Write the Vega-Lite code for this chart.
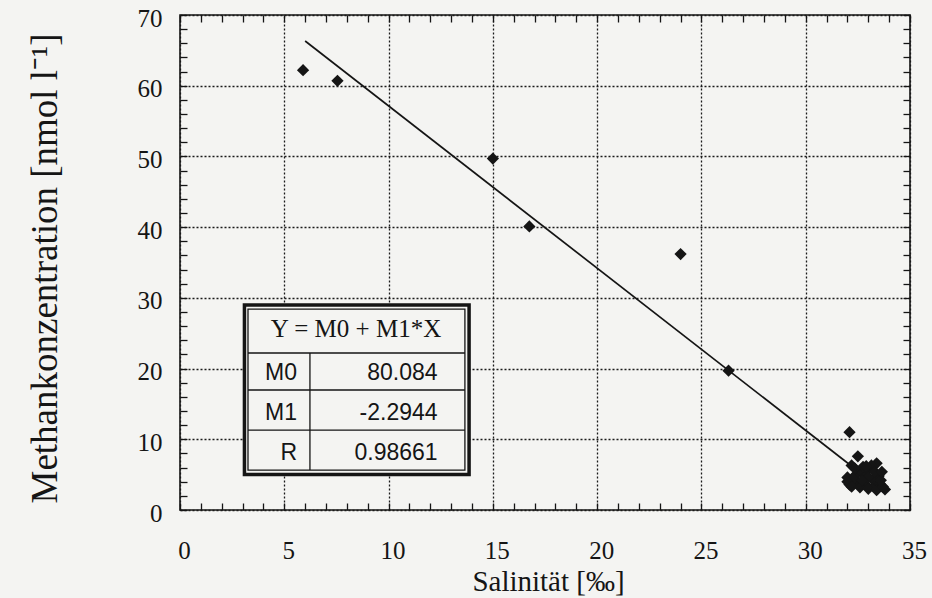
{
  "$schema": "https://vega.github.io/schema/vega-lite/v6.json",
  "width": 730,
  "height": 495,
  "autosize": {"type": "none"},
  "padding": {"left": 180, "top": 15, "right": 22, "bottom": 88},
  "background": "#f4f4f2",
  "config": {
    "view": {"stroke": "#151515", "strokeWidth": 1.6},
    "font": "Liberation Serif",
    "axis": {
      "labelFont": "Liberation Serif", "labelFontSize": 25, "labelColor": "#151515",
      "titleFont": "Liberation Serif", "titleFontWeight": "normal", "titleColor": "#151515",
      "tickColor": "#151515", "tickWidth": 1.3
    }
  },
  "datasets": {
    "points": [
      {"sal": 5.9, "ch4": 62.2}, {"sal": 7.55, "ch4": 60.7}, {"sal": 15.0, "ch4": 49.7},
      {"sal": 16.75, "ch4": 40.1}, {"sal": 24.0, "ch4": 36.2}, {"sal": 26.3, "ch4": 19.7},
      {"sal": 32.1, "ch4": 11.0}, {"sal": 32.5, "ch4": 7.6}, {"sal": 32.2, "ch4": 6.3},
      {"sal": 33.4, "ch4": 6.6}, {"sal": 32.0, "ch4": 4.6}, {"sal": 32.4, "ch4": 5.0},
      {"sal": 32.65, "ch4": 5.5}, {"sal": 32.85, "ch4": 4.8}, {"sal": 33.0, "ch4": 5.7},
      {"sal": 33.2, "ch4": 4.3}, {"sal": 32.5, "ch4": 3.9}, {"sal": 32.1, "ch4": 3.6},
      {"sal": 32.9, "ch4": 3.5}, {"sal": 33.3, "ch4": 3.3}, {"sal": 33.55, "ch4": 3.7},
      {"sal": 33.8, "ch4": 2.9}, {"sal": 32.75, "ch4": 6.1}, {"sal": 33.15, "ch4": 6.3},
      {"sal": 33.5, "ch4": 4.8}, {"sal": 32.3, "ch4": 4.4}, {"sal": 32.0, "ch4": 4.0},
      {"sal": 32.2, "ch4": 3.3}, {"sal": 32.6, "ch4": 3.2}, {"sal": 33.0, "ch4": 3.0},
      {"sal": 33.4, "ch4": 2.8}, {"sal": 33.7, "ch4": 3.3}, {"sal": 33.0, "ch4": 4.6},
      {"sal": 32.7, "ch4": 4.2}, {"sal": 33.3, "ch4": 5.4}, {"sal": 33.6, "ch4": 4.2},
      {"sal": 32.35, "ch4": 5.9}, {"sal": 32.9, "ch4": 6.2}, {"sal": 33.65, "ch4": 5.4}
    ],
    "fit": [{"sal": 6.0, "ch4": 66.32}, {"sal": 32.5, "ch4": 5.52}],
    "outer": [{"x1": 3.09, "x2": 13.86, "y1": 5.02, "y2": 29.0}],
    "inner": [{"x1": 3.26, "x2": 13.66, "y1": 5.65, "y2": 28.42}],
    "dividers": [
      {"x1": 3.26, "x2": 13.66, "y1": 22.2, "y2": 22.2},
      {"x1": 3.26, "x2": 13.66, "y1": 16.97, "y2": 16.97},
      {"x1": 3.26, "x2": 13.66, "y1": 11.3, "y2": 11.3},
      {"x1": 6.23, "x2": 6.23, "y1": 5.65, "y2": 22.2}
    ],
    "header": [{"x": 8.44, "y": 25.59, "t": "Y = M0 + M1*X"}],
    "params": [
      {"xl": 5.61, "xv": 12.35, "y": 19.37, "name": "M0", "value": "80.084"},
      {"xl": 5.61, "xv": 12.35, "y": 13.71, "name": "M1", "value": "-2.2944"},
      {"xl": 5.61, "xv": 12.35, "y": 8.06, "name": "R", "value": "0.98661"}
    ]
  },
  "layer": [
    {
      "data": {"name": "points"},
      "mark": {"type": "point", "shape": "diamond", "filled": true, "color": "#151515", "size": 150, "opacity": 1},
      "encoding": {
        "x": {
          "field": "sal", "type": "quantitative",
          "scale": {"domain": [0, 35], "nice": false, "zero": false},
          "axis": {
            "orient": "bottom",
            "values": [0,1,2,3,4,5,6,7,8,9,10,11,12,13,14,15,16,17,18,19,20,21,22,23,24,25,26,27,28,29,30,31,32,33,34,35],
            "labelExpr": "datum.value % 5 === 0 ? datum.label : ''",
            "labelOverlap": false, "labelFlush": false,
            "tickSize": -7, "domain": false, "grid": false,
            "labelPadding": 35, "labelOffset": 4,
            "title": "Salinität [‰]", "titleFontSize": 29, "titleY": 80, "titleX": 368, "titleBaseline": "alphabetic"
          }
        },
        "y": {
          "field": "ch4", "type": "quantitative",
          "scale": {"domain": [0, 70], "nice": false, "zero": false},
          "axis": {
            "orient": "left",
            "values": [0,2,4,6,8,10,12,14,16,18,20,22,24,26,28,30,32,34,36,38,40,42,44,46,48,50,52,54,56,58,60,62,64,66,68,70],
            "labelExpr": "datum.value % 10 === 0 ? datum.label : ''",
            "labelOverlap": false, "labelFlush": false,
            "tickSize": -7, "domain": false, "grid": false,
            "labelPadding": 25, "labelOffset": 3,
            "title": "Methankonzentration [nmol l⁻¹]", "titleFontSize": 37,
            "titleX": -124, "titleY": 253, "titleBaseline": "alphabetic", "titleAlign": "center"
          }
        }
      }
    },
    {
      "data": {"name": "fit"},
      "mark": {"type": "line", "color": "#151515", "strokeWidth": 1.7},
      "encoding": {
        "x": {
          "field": "sal", "type": "quantitative",
          "axis": {
            "orient": "top",
            "values": [0,1,2,3,4,5,6,7,8,9,10,11,12,13,14,15,16,17,18,19,20,21,22,23,24,25,26,27,28,29,30,31,32,33,34,35],
            "labels": false, "tickSize": -7,
            "domain": false, "grid": true, "gridDash": [2, 2], "gridColor": "#1a1a1a", "gridWidth": 1.3,
            "gridOpacity": {"condition": {"test": "datum.value % 5 === 0", "value": 1}, "value": 0},
            "title": null
          }
        },
        "y": {
          "field": "ch4", "type": "quantitative",
          "axis": {
            "orient": "right",
            "values": [0,2,4,6,8,10,12,14,16,18,20,22,24,26,28,30,32,34,36,38,40,42,44,46,48,50,52,54,56,58,60,62,64,66,68,70],
            "labels": false, "tickSize": -7,
            "domain": false, "grid": true, "gridDash": [2, 2], "gridColor": "#1a1a1a", "gridWidth": 1.3,
            "gridOpacity": {"condition": {"test": "datum.value % 10 === 0", "value": 1}, "value": 0},
            "title": null
          }
        }
      }
    },
    {
      "data": {"name": "outer"},
      "mark": {"type": "rect", "fill": "#f4f4f2", "stroke": "#151515", "strokeWidth": 3.5},
      "encoding": {
        "x": {"field": "x1", "type": "quantitative", "axis": null},
        "x2": {"field": "x2"},
        "y": {"field": "y1", "type": "quantitative", "axis": null},
        "y2": {"field": "y2"}
      }
    },
    {
      "data": {"name": "inner"},
      "mark": {"type": "rect", "fillOpacity": 0, "stroke": "#151515", "strokeWidth": 1.3},
      "encoding": {
        "x": {"field": "x1", "type": "quantitative", "axis": null},
        "x2": {"field": "x2"},
        "y": {"field": "y1", "type": "quantitative", "axis": null},
        "y2": {"field": "y2"}
      }
    },
    {
      "data": {"name": "dividers"},
      "mark": {"type": "rule", "color": "#151515", "strokeWidth": 1.3},
      "encoding": {
        "x": {"field": "x1", "type": "quantitative", "axis": null},
        "x2": {"field": "x2"},
        "y": {"field": "y1", "type": "quantitative", "axis": null},
        "y2": {"field": "y2"}
      }
    },
    {
      "data": {"name": "header"},
      "mark": {"type": "text", "font": "Liberation Serif", "fontSize": 25, "color": "#151515", "align": "center", "baseline": "middle"},
      "encoding": {
        "x": {"field": "x", "type": "quantitative", "axis": null},
        "y": {"field": "y", "type": "quantitative", "axis": null},
        "text": {"field": "t"}
      }
    },
    {
      "data": {"name": "params"},
      "mark": {"type": "text", "font": "Liberation Sans", "fontSize": 23, "color": "#151515", "align": "right", "baseline": "middle"},
      "encoding": {
        "x": {"field": "xl", "type": "quantitative", "axis": null},
        "y": {"field": "y", "type": "quantitative", "axis": null},
        "text": {"field": "name"}
      }
    },
    {
      "data": {"name": "params"},
      "mark": {"type": "text", "font": "Liberation Sans", "fontSize": 23, "color": "#151515", "align": "right", "baseline": "middle"},
      "encoding": {
        "x": {"field": "xv", "type": "quantitative", "axis": null},
        "y": {"field": "y", "type": "quantitative", "axis": null},
        "text": {"field": "value"}
      }
    }
  ],
  "resolve": {"axis": {"x": "independent", "y": "independent"}}
}
